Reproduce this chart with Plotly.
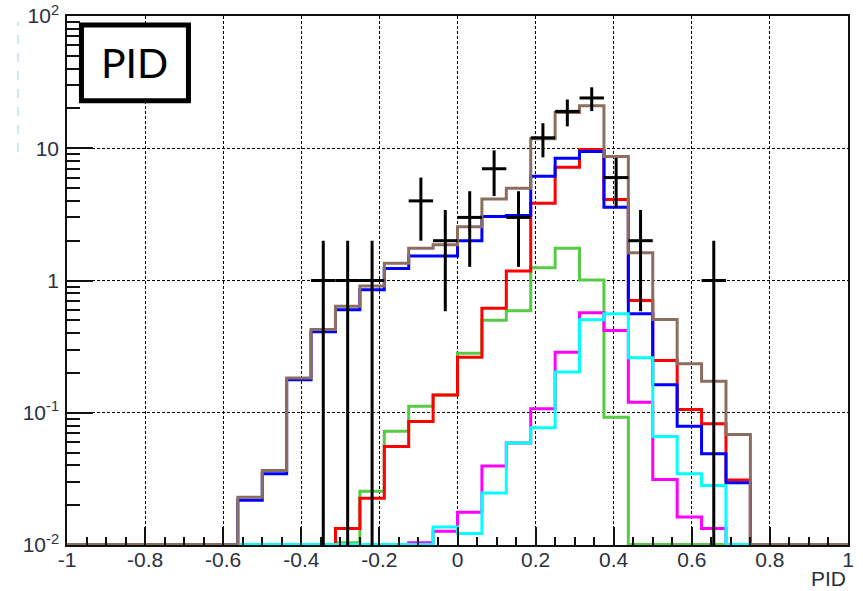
import numpy as np
import plotly.graph_objects as go

# ---------------- data ----------------
n_bins = 32
x_min, x_max = -1.0, 1.0
floor_val = 0.0101  # zero bins are drawn on the frame bottom (ROOT style)

# histogram contents: (first bin index, values...)
brown_first = 7
brown_vals = [0.023, 0.0366, 0.183, 0.426, 0.64, 0.91, 1.35, 1.75, 1.86, 2.55, 4.14,
              4.99, 11.8, 18.6, 21.0, 8.65, 1.62, 0.507, 0.235, 0.173, 0.0686]
blue_first = 7
blue_vals = [0.0218, 0.0345, 0.178, 0.41, 0.60, 0.85, 1.23, 1.53, 1.53, 2.0, 3.05,
             3.1, 6.14, 8.4, 9.44, 3.58, 0.56, 0.163, 0.079, 0.049, 0.0296]
red_first = 11
red_vals = [0.0133, 0.0226, 0.0556, 0.086, 0.136, 0.263, 0.618, 1.18, 3.84, 7.18,
            9.78, 4.1, 0.706, 0.248, 0.106, 0.0826, 0.031]
green_first = 11
green_vals = [0.0104, 0.0255, 0.0726, 0.112, 0.136, 0.282, 0.5, 0.59, 1.25, 1.75,
              1.01, 0.0926]
magenta_first = 14
magenta_vals = [0.0104, 0.0127, 0.0177, 0.0395, 0.059, 0.107, 0.287, 0.57, 0.419,
                0.12, 0.0313, 0.0163, 0.0133]
cyan_first = 15
cyan_vals = [0.0137, 0.0122, 0.0247, 0.059, 0.077, 0.203, 0.505, 0.56, 0.26, 0.066,
             0.0346, 0.0282]

# data points: bin index -> counts
data_bins = [10, 11, 12, 14, 15, 16, 17, 18, 19, 20, 21, 22, 23, 26]
data_counts = [1, 1, 1, 4, 2, 3, 7, 3, 12, 19, 24, 6, 2, 1]

x_tickvals = [-1, -0.8, -0.6, -0.4, -0.2, 0, 0.2, 0.4, 0.6, 0.8, 1]
x_ticktext = ["-1", "-0.8", "-0.6", "-0.4", "-0.2", "0", "0.2", "0.4", "0.6", "0.8", "1"]
y_tickvals = [0.01, 0.1, 1, 10, 100]
y_ticktext = ["10<sup>-2</sup>", "10<sup>-1</sup>", "1", "10", "10<sup>2</sup>"]
x_title = "PID"
box_label = "PID"

# ---------------- helpers ----------------
edges = np.linspace(x_min, x_max, n_bins + 1)
bw = edges[1] - edges[0]
centers = 0.5 * (edges[:-1] + edges[1:])


def full_hist(first, vals):
    h = np.zeros(n_bins)
    h[first:first + len(vals)] = vals
    h = np.where(h <= 0, floor_val, h)
    return h


def step_xy(h):
    xs = list(edges)
    ys = list(h) + [h[-1]]
    return xs, ys


fig = go.Figure()

hists = [
    ("green", green_first, green_vals, "#55cc44"),
    ("red", red_first, red_vals, "#ff0000"),
    ("blue", blue_first, blue_vals, "#0000ff"),
    ("magenta", magenta_first, magenta_vals, "#ff00ff"),
    ("cyan", cyan_first, cyan_vals, "#00ffff"),
    ("brown", brown_first, brown_vals, "#8c6e60"),
]
for name, first, vals, col in hists:
    xs, ys = step_xy(full_hist(first, vals))
    fig.add_trace(go.Scatter(x=xs, y=ys, mode="lines", line=dict(color=col, width=3, shape="hv"),
                             name=name, showlegend=False, hoverinfo="skip"))

# data points with error bars
dx = [centers[b] for b in data_bins]
dy = data_counts
err_up = [np.sqrt(n) for n in data_counts]
err_dn = [np.sqrt(n) if np.sqrt(n) < n else n - 1e-3 for n in data_counts]
fig.add_trace(go.Scatter(
    x=dx, y=dy, mode="markers",
    marker=dict(size=1, color="black"),
    error_x=dict(type="data", array=[bw / 2] * len(dx), symmetric=True, color="black", thickness=3, width=0),
    error_y=dict(type="data", array=err_up, arrayminus=err_dn, symmetric=False, color="black",
                 thickness=3, width=0),
    showlegend=False, hoverinfo="skip"))

tick_font = dict(family="Liberation Sans, Arial, sans-serif", size=21, color="#2c3040")

minor_x = [round(v, 4) for v in np.arange(-1, 1.0001, 0.05)]
minor_y = [m * 10.0 ** k for k in range(-2, 2) for m in range(2, 10)]

fig.update_layout(
    width=863, height=591,
    margin=dict(l=67, r=15, t=16, b=46),
    plot_bgcolor="white", paper_bgcolor="white",
    showlegend=False,
    xaxis=dict(
        range=[x_min, x_max], automargin=False,
        tickmode="array", tickvals=x_tickvals, ticktext=x_ticktext,
        ticks="inside", ticklen=18, tickwidth=1.5, tickcolor="#111",
        showline=True, linecolor="#111", linewidth=1.5, mirror=True,
        showgrid=True, gridcolor="#000", gridwidth=1, griddash="3px,2px",
        zeroline=False, tickfont=tick_font, ticklabelstandoff=-5,
        minor=dict(tickmode="array", tickvals=minor_x, ticks="inside", ticklen=8,
                   tickwidth=1.5, tickcolor="#111", showgrid=False),
    ),
    yaxis=dict(
        type="log", range=[-2, 2], automargin=False,
        tickmode="array", tickvals=y_tickvals, ticktext=y_ticktext,
        ticks="inside", ticklen=26, tickwidth=1.5, tickcolor="#111",
        showline=True, linecolor="#111", linewidth=1.5, mirror=True,
        showgrid=True, gridcolor="#000", gridwidth=1, griddash="3px,2px",
        zeroline=False, tickfont=tick_font, ticklabelstandoff=2,
        minor=dict(tickmode="array", tickvals=minor_y, ticks="inside", ticklen=13,
                   tickwidth=1.5, tickcolor="#111", showgrid=False),
    ),
)

# axis title at lower right (ROOT style)
fig.add_annotation(text=x_title, xref="paper", yref="paper", x=1.0, y=-0.063,
                   xanchor="right", yanchor="middle", showarrow=False, font=tick_font)

# "PID" label box
fig.add_shape(type="rect", xref="paper", yref="paper", x0=0.0185, x1=0.1555, y0=0.840, y1=0.983,
              line=dict(color="black", width=5), fillcolor="white", layer="above")
fig.add_annotation(text=box_label, xref="paper", yref="paper", x=0.087, y=0.912,
                   xanchor="center", yanchor="middle", showarrow=False,
                   font=dict(family="Lato, Open Sans, sans-serif", size=41, color="black"))

# faint dashed artifact at the left edge
fig.add_shape(type="line", xref="paper", yref="paper", x0=-0.0627, x1=-0.0627, y0=0.743, y1=0.99,
              line=dict(color="#9fd3ea", width=1, dash="dash"), layer="above")

fig.write_html("out.html")
